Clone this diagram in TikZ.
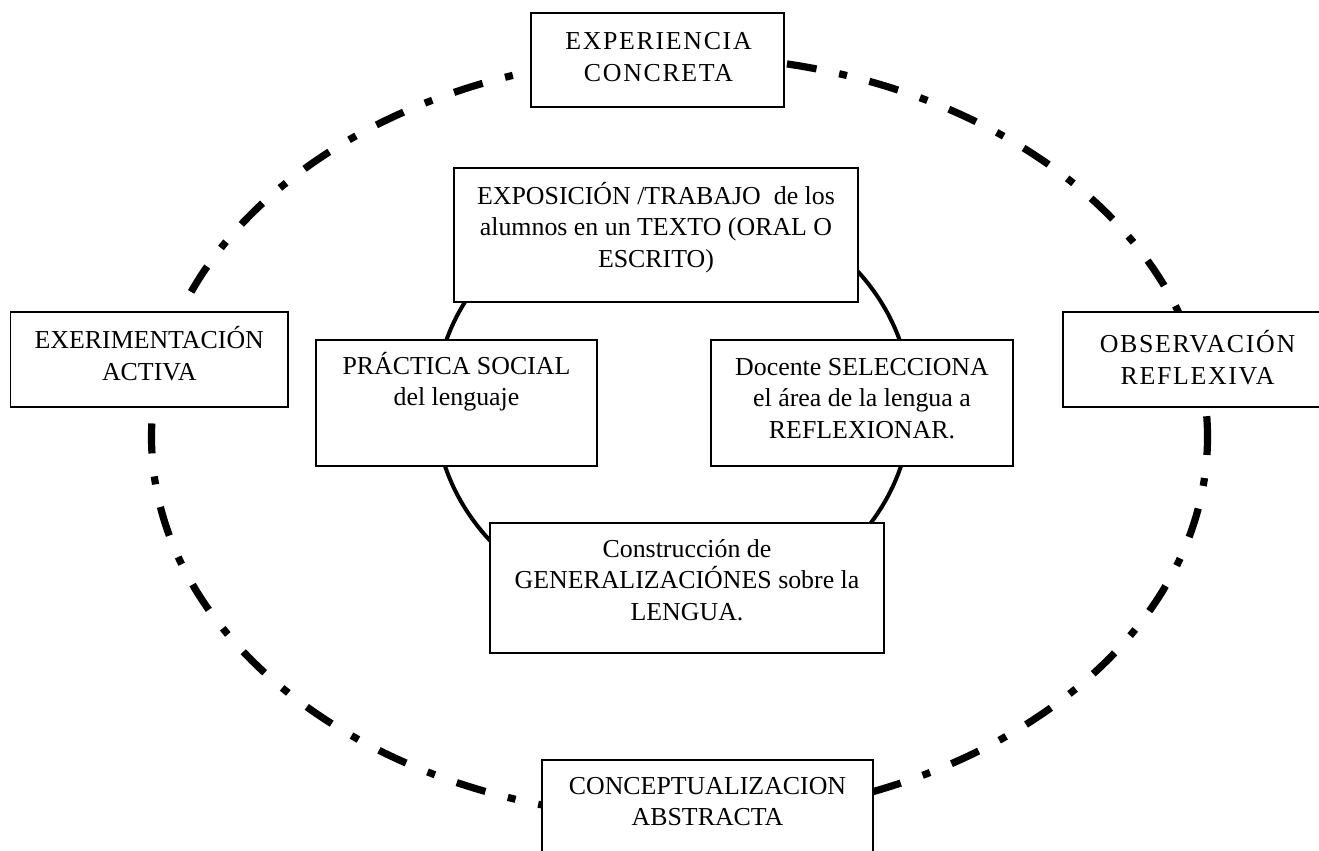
\documentclass[tikz,border=0pt]{standalone}
\usepackage{fontspec}
\setmainfont{Liberation Serif}
\newfontfamily\espaciada[LetterSpace=6.5]{Liberation Serif}
\tikzset{
  cajabox/.style={fill=white, line width=0.9pt},
  texto/.style={anchor=base, inner sep=0.75pt, align=center, font=\fontsize{19.4}{23.6}\selectfont},
  espaciado/.style={font=\espaciada\fontsize{19.4}{24}\selectfont},
  ciclo/.style={line width=5.4pt, dash pattern=on 22.5pt off 17.36pt on 6pt off 17.36pt, dash phase=9pt},
}
\begin{document}
\begin{tikzpicture}[x=0.75pt,y=0.75pt,yscale=-1,xscale=1]
      \useasboundingbox (0,0) rectangle (1319,850);
      \clip (0,0) rectangle (1319,850);

      %Shape: Ellipse (dash dot)
      \draw [ciclo] (679.5,437) ellipse [x radius=528, y radius=381];
      %Shape: Ellipse
      \draw [line width=3pt] (673,405) ellipse [x radius=238, y radius=212];

      %Flowchart: Process
      \draw [cajabox] (531,13) -- (784,13) -- (784,107) -- (531,107) -- cycle ;
      \draw [cajabox] (454,168) -- (858,168) -- (858,302) -- (454,302) -- cycle ;
      \draw [cajabox] (10.5,312) -- (288,312) -- (288,407) -- (10.5,407) -- cycle ;
      \draw [cajabox] (316,340) -- (597,340) -- (597,466) -- (316,466) -- cycle ;
      \draw [cajabox] (711,340) -- (1013,340) -- (1013,466) -- (711,466) -- cycle ;
      \draw [cajabox] (1063,312) -- (1331,312) -- (1331,407) -- (1063,407) -- cycle ;
      \draw [cajabox] (490,523) -- (884,523) -- (884,653) -- (490,653) -- cycle ;
      \draw [cajabox] (542,760) -- (873,760) -- (873,870) -- (542,870) -- cycle ;

      % Text Node (base = last line)
      \draw (658.5,81.7) node [texto,espaciado] (exper) {EXPERIENCIA\\CONCRETA};
      % Text Node
      \draw (656,267) node [texto] (expos) {EXPOSICIÓN /TRABAJO \ de los\\alumnos en un TEXTO (ORAL O\\ESCRITO)};
      % Text Node
      \draw (149.25,380) node [texto] (exerim) {EXERIMENTACIÓN\\ACTIVA};
      % Text Node
      \draw (456.5,405.5) node [texto] (practica) {PRÁCTICA SOCIAL\\del lenguaje};
      % Text Node
      \draw (862,438) node [texto] (docente) {Docente SELECCIONA\\el área de la lengua a\\REFLEXIONAR.};
      % Text Node
      \draw (1197.5,384) node [texto,espaciado] (observ) {OBSERVACIÓN\\REFLEXIVA};
      % Text Node
      \draw (687,620) node [texto] (constr) {Construcción de\\GENERALIZACIÓNES sobre la\\LENGUA.};
      % Text Node
      \draw (707.5,825.5) node [texto] (concep) {CONCEPTUALIZACION\\ABSTRACTA};
\end{tikzpicture}
\end{document}
